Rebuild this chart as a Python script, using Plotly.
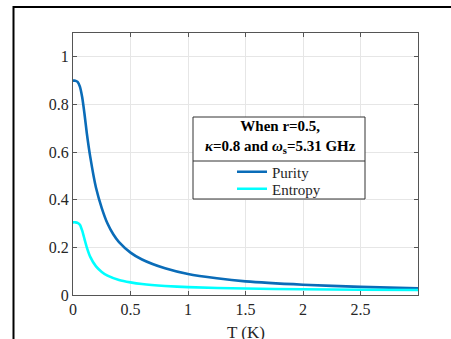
import plotly.graph_objects as go

T_purity = [0, 0.02, 0.04, 0.06, 0.08, 0.10, 0.12, 0.15, 0.20, 0.25, 0.30, 0.35, 0.40, 0.50, 0.60, 0.80, 1.00, 1.25, 1.50, 2.00, 2.50, 3.00]
purity = [0.90, 0.90, 0.895, 0.875, 0.83, 0.76, 0.68, 0.58, 0.45, 0.365, 0.30, 0.255, 0.222, 0.178, 0.149, 0.112, 0.088, 0.070, 0.057, 0.043, 0.034, 0.028]

T_entropy = [0, 0.02, 0.04, 0.06, 0.08, 0.10, 0.12, 0.15, 0.20, 0.25, 0.30, 0.40, 0.50, 0.60, 0.80, 1.00, 1.50, 2.00, 2.50, 3.00]
entropy = [0.305, 0.305, 0.303, 0.295, 0.27, 0.235, 0.20, 0.16, 0.12, 0.097, 0.081, 0.063, 0.053, 0.046, 0.038, 0.033, 0.027, 0.024, 0.022, 0.021]

x_ticks = [0, 0.5, 1, 1.5, 2, 2.5]
y_ticks = [0, 0.2, 0.4, 0.6, 0.8, 1]

serif = "Liberation Serif, Times New Roman, serif"

fig = go.Figure()
fig.add_trace(go.Scatter(x=T_purity, y=purity, mode="lines", name="Purity", legend="legend",
                         line=dict(color="#0a6cb8", width=2.6, shape="spline", smoothing=0.6)))
fig.add_trace(go.Scatter(x=T_entropy, y=entropy, mode="lines", name="Entropy", legend="legend2",
                         line=dict(color="#00ffff", width=2.6, shape="spline", smoothing=0.6)))

W, H = 451, 339
L, R, Tm, B = 73, 33, 33, 44
pw, ph = W - L - R, H - Tm - B

def px(x):
    return (x - L) / pw

def py(y):
    return (H - B - y) / ph

axis_common = dict(showgrid=True, gridcolor="#e6e6e6", gridwidth=1, automargin=False,
                   showline=True, linecolor="#555555", linewidth=1, mirror="ticks",
                   ticks="inside", ticklen=4, tickcolor="#555555", zeroline=False,
                   tickfont=dict(family=serif, size=16, color="#262626"))

leg_common = dict(xanchor="left", yanchor="middle", bgcolor="rgba(0,0,0,0)", borderwidth=0,
                  font=dict(family=serif, size=15, color="#262626"), itemwidth=30)

fig.update_layout(
    width=W, height=H,
    margin=dict(l=L, r=R, t=Tm, b=B),
    paper_bgcolor="white", plot_bgcolor="white",
    xaxis=dict(range=[0, 2.999], tickvals=x_ticks, ticktext=["0", "0.5", "1", "1.5", "2", "2.5"],
               **axis_common),
    yaxis=dict(range=[0, 1.1], tickvals=y_ticks, ticktext=["0", "0.2", "0.4", "0.6", "0.8", "1"],
               **axis_common),
    showlegend=True,
    legend=dict(x=px(232), y=py(172), **leg_common),
    legend2=dict(x=px(232), y=py(189), **leg_common),
)

# x-axis title (cut by the bottom edge, as in the original)
fig.add_annotation(xref="paper", yref="paper", x=px(245.5), y=py(332),
                   xanchor="center", yanchor="middle", showarrow=False,
                   text="T (K)", font=dict(family=serif, size=17, color="#262626"))

# Legend box + divider
fig.add_shape(type="rect", xref="paper", yref="paper",
              x0=px(193), x1=px(365), y0=py(199), y1=py(117),
              line=dict(color="#333333", width=1), fillcolor="white", layer="above")
fig.add_shape(type="line", xref="paper", yref="paper",
              x0=px(193), x1=px(365), y0=py(161), y1=py(161),
              line=dict(color="#333333", width=1), layer="above")
fig.add_annotation(xref="paper", yref="paper", x=px(280), y=py(137),
                   xanchor="center", yanchor="middle", showarrow=False,
                   text="<b>When r=0.5,</b><br><b><i>κ</i>=0.8 and <i>ω</i><sub>s</sub>=5.31 GHz</b>",
                   font=dict(family=serif, size=15, color="black"))

# Outer frame
fig.add_shape(type="rect", xref="paper", yref="paper",
              x0=px(13.5), x1=px(460), y0=py(360), y1=py(7),
              line=dict(color="black", width=2), layer="above")

fig.write_html("out.html")
